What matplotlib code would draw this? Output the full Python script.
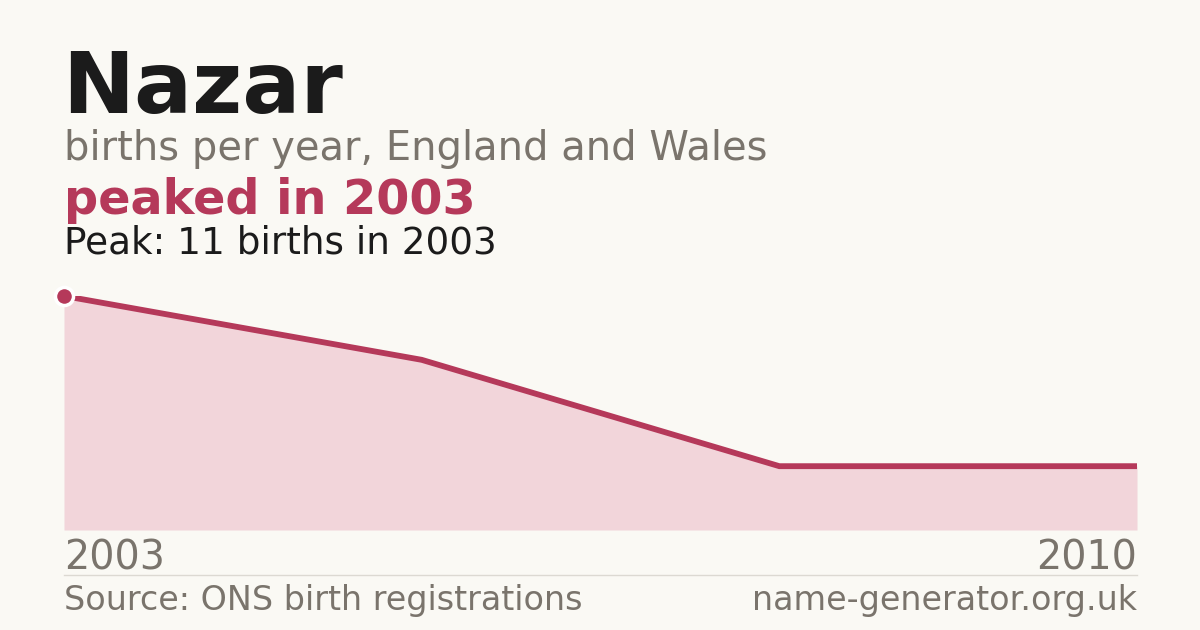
import numpy as np
import matplotlib.pyplot as plt

years = [2003, 2005, 2008, 2010]
births = [11, 8, 3, 3]
name = "Nazar"
subtitle = "births per year, England and Wales"
headline = "peaked in 2003"
peak_note = "Peak: 11 births in 2003"
source = "Source: ONS birth registrations"
site = "name-generator.org.uk"

BG = '#faf9f4'
RED = '#b5395a'
FILL = '#f2d5da'
GREY = '#7a746c'
INK = '#1b1b1b'

W, H = 1200, 630
fig = plt.figure(figsize=(12, 6.3), dpi=100, facecolor=BG)

def px(x, y):
	return x / W, 1 - y / H

# plot area: 2003 at x=64, 2010 at x=1137, zero at y=530, peak at y=296
left, right, bottom, top = 64, 1137, 530, 296
ax = fig.add_axes([left / W, 1 - bottom / H, (right - left) / W, (bottom - top) / H])
ax.set_facecolor(BG)
xs = np.arange(len(years))
ax.fill_between(xs, births, 0, color=FILL, lw=0)
ax.plot(xs, births, color=RED, lw=4.2, solid_capstyle='butt', solid_joinstyle='miter')
ax.plot(xs[0], births[0], 'o', ms=13, color=RED, mec='white', mew=2.5, clip_on=False, zorder=5)
ax.set_xlim(xs[0], xs[-1])
ax.set_ylim(0, max(births))
ax.axis('off')

# header
fig.text(*px(62, 113), name, fontsize=62, fontweight='bold', color=INK, va='baseline')
fig.text(*px(64, 160), subtitle, fontsize=28.8, color=GREY, va='baseline')
fig.text(*px(64, 214), headline, fontsize=34.4, fontweight='bold', color=RED, va='baseline')
fig.text(*px(64, 254), peak_note, fontsize=26.9, color=INK, va='baseline')

# x labels
fig.text(*px(64, 570), str(years[0]), fontsize=28.5, color=GREY, va='baseline')
fig.text(*px(1137, 570), str(years[-1]), fontsize=28.5, color=GREY, va='baseline', ha='right')

# footer
fig.add_artist(plt.Line2D([64 / W, 1137 / W], [1 - 575 / H] * 2, color='#dcd9d2', lw=1))
fig.text(*px(64, 610), source, fontsize=24, color=GREY, va='baseline')
fig.text(*px(1137, 610), site, fontsize=24, color=GREY, va='baseline', ha='right')

fig.savefig('out.png', dpi=100, facecolor=BG)
